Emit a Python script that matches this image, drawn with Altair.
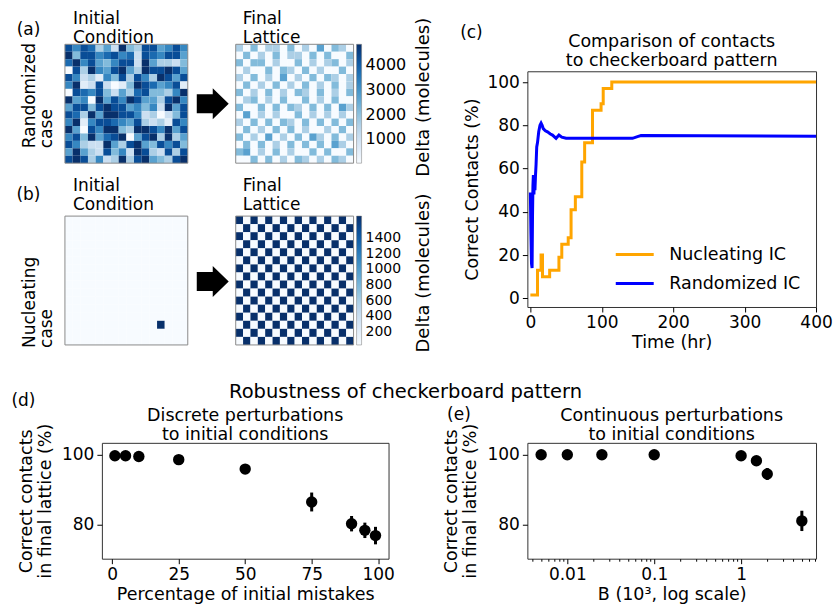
import altair as alt
import pandas as pd

FONT = "DejaVu Sans"
BLUES = ["#f7fbff", "#deebf7", "#c6dbef", "#9ecae1", "#6baed6",
         "#4292c6", "#2171b5", "#08519c", "#08306b"]

# ---------------- (a) randomized case: 16x16 lattices, levels 0-9 ----------------
LEVELS_A = [30, 560, 1100, 1640, 2170, 2710, 3240, 3780, 4310, 4850]
INIT_A = [
    "8687352943885686", "9488678672876885", "7968546882953324", "0839658953988985",
    "8623164838639858", "6912820149875681", "0876842537844369", "9560958698553896",
    "5884898856462958", "8739599886230248", "6916887658323186", "9508699439986958",
    "6849578905893935", "8632295389548684", "5953284629832838", "8983623938954389",
]
FINAL_A = [
    "3040330403050430", "0403040330404004", "4044030040303403", "0300404304030040",
    "3040305030404303", "0403040304030403", "4030403043040304", "0340304004030400",
    "4004040430404053", "0503030040303030", "3040404304040404", "0403040403003040",
    "4030503040530403", "0404030404040530", "4503040300404004", "0040403043030430",
]
TICKS_A = [1000, 2000, 3000, 4000]

# ---------------- (b) nucleating case ----------------
LEVELS_B = [35, 1680]
INIT_B = [
    "0000000000000000", "0000000000000000", "0000000000000000", "0000000000000000",
    "0000000000000000", "0000000000000000", "0000000000000000", "0000000000000000",
    "0000000000000000", "0000000000000000", "0000000000000000", "0000000000000000",
    "0000000000000000", "0000000000001000", "0000000000000000", "0000000000000000",
]
FINAL_B = [
    "1010101010101010", "0101010101010101", "1010101010101010", "0101010101010101",
    "1010101010101010", "0101010101010101", "1010101010101010", "0101010101010101",
    "1010101010101010", "0101010101010101", "1010101010101010", "0101010101010101",
    "1010101010101010", "0101010101010101", "1010101010101010", "0101010101010101",
]
TICKS_B = [200, 400, 600, 800, 1000, 1200, 1400]

# ---------------- (c) contacts vs time ----------------
NUC_T = [0, 10, 15, 17, 27, 40, 44, 53, 57, 63, 72, 76, 87, 99, 102, 114, 400]
NUC_P = [1.5, 13, 20, 10, 13, 19, 25, 28, 41, 47, 63, 72, 87, 90, 97, 100, 100]
RAND_T = [0, 0.8, 1.6, 2.4, 3.0, 3.6, 4.2, 5.0, 5.6, 6.4, 7.2, 8.0, 8.9, 10, 11.7,
          13.5, 15, 16.5, 18, 21, 24, 28, 31, 36, 40, 44, 50, 100, 143, 150, 155, 400]
RAND_P = [49, 30, 16, 14, 38, 52, 57, 48, 56, 50, 57, 62, 70, 72, 77,
          80, 81, 80, 78.5, 77.5, 77, 76, 75.5, 74, 75.5, 74.5, 74, 74, 74, 74.8, 75.3, 75]
SERIES = ["Nucleating IC", "Randomized IC"]
SERIES_COLORS = ["#FFA500", "#0000FF"]
C_XTICKS = [0, 100, 200, 300, 400]
C_YTICKS = [0, 20, 40, 60, 80, 100]

# ---------------- (d) discrete perturbations ----------------
D_X = [1, 5, 10, 25, 50, 75, 90, 95, 99]
D_Y = [99.7, 99.7, 99.5, 98.6, 95.9, 86.5, 80.3, 78.4, 76.9]
D_ERR = [0.3, 0.3, 0.4, 0.6, 1.2, 2.7, 2.2, 2.2, 2.5]
D_XTICKS = [0, 25, 50, 75, 100]

# ---------------- (e) continuous perturbations ----------------
E_X = [0.005, 0.01, 0.025, 0.1, 1, 1.5, 2, 5]
E_Y = [100, 100, 100, 100, 99.7, 98.3, 94.5, 81.1]
E_ERR = [0.1, 0.1, 0.1, 0.1, 0.4, 0.8, 1.7, 2.9]
E_MAJOR = [0.01, 0.1, 1]
E_MINOR = [0.004, 0.005, 0.006, 0.007, 0.008, 0.009,
           0.02, 0.03, 0.04, 0.05, 0.06, 0.07, 0.08, 0.09,
           0.2, 0.3, 0.4, 0.5, 0.6, 0.7, 0.8, 0.9,
           2, 3, 4, 5, 6, 7]
Y_TICKS_DE = [80, 100]

ARROW = "M -1 -0.6 L 0 -0.6 L 0 -0.97 L 1 0 L 0 0.97 L 0 0.6 L -1 0.6 Z"
ONE = alt.Data(values=[{}])


def lattice_df(rows, levels):
    recs = []
    for r, line in enumerate(rows):
        for c, ch in enumerate(line):
            recs.append({"r": r, "r2": r + 1, "c": c, "c2": c + 1, "v": levels[int(ch)]})
    return pd.DataFrame(recs)


def lattice(rows, levels, xr, yr, legend):
    df = lattice_df(rows, levels)
    xs = alt.Scale(domain=[0, 16], range=xr, nice=False, zero=False)
    ys = alt.Scale(domain=[0, 16], range=yr, nice=False, zero=False)
    cells = alt.Chart(df).mark_rect().encode(
        x=alt.X("c:Q", scale=xs, axis=None), x2="c2:Q",
        y=alt.Y("r:Q", scale=ys, axis=None), y2="r2:Q",
        color=alt.Color("v:Q", scale=alt.Scale(domain=[levels[0], levels[-1]], range=BLUES,
                                               nice=False, zero=False), legend=legend),
    )
    frame = alt.Chart(ONE).mark_rect(filled=False, stroke="#8a8a8a", strokeWidth=1).encode(
        x=alt.datum(0), x2=alt.datum(16), y=alt.datum(0), y2=alt.datum(16))
    return alt.layer(cells, frame)


def label(text, x, y, size=17, angle=0, align="center", baseline="middle", line_height=None):
    kw = dict(fontSize=size, align=align, baseline=baseline, font=FONT, color="black", lineBreak="\n")
    if angle:
        kw["angle"] = angle
    if line_height:
        kw["lineHeight"] = line_height
    return alt.Chart(ONE).mark_text(**kw).encode(x=alt.value(x), y=alt.value(y), text=alt.value(text))


def arrow(x, y):
    return alt.Chart(ONE).mark_point(shape=ARROW, size=1024, filled=True, color="black",
                                     opacity=1, strokeWidth=0).encode(x=alt.value(x), y=alt.value(y))


def cbar(values, y0, length, size):
    return alt.Legend(orient="none", legendX=255, legendY=y0, direction="vertical", title=None,
                      gradientLength=length, gradientThickness=5, values=values, format="d",
                      labelFontSize=size, labelOffset=4, labelOverlap=False, padding=0,
                      gradientStrokeColor="#777", gradientStrokeWidth=0.5,
                      labelFont=FONT, labelColor="black")


# ---------------- left block (a)+(b), plus free panel labels ----------------
left = alt.layer(
    lattice(INIT_A, LEVELS_A, [-37, 86], [-27, 92], None),
    lattice(FINAL_A, LEVELS_A, [134, 252], [-27, 92], cbar(TICKS_A, -27, 119, 16)),
    lattice(INIT_B, LEVELS_B, [-37, 86], [145, 274], None),
    lattice(FINAL_B, LEVELS_B, [134, 252], [145, 274], cbar(TICKS_B, 145, 129, 14)),
    label("(a)", -73.5, -41),
    label("(b)", -73.5, 124),
    label("(c)", 370, -38),
    label("(d)", -78.5, 330),
    label("(e)", 357.5, 344),
    label("Robustness of checkerboard pattern", 304, 327, size=19.5, baseline="alphabetic"),
    label("Initial\nCondition", -29, -47, align="left", baseline="alphabetic", line_height=18.5),
    label("Final\nLattice", 141, -47, align="left", baseline="alphabetic", line_height=18.5),
    label("Initial\nCondition", -29, 120, align="left", baseline="alphabetic", line_height=18.5),
    label("Final\nLattice", 141, 120, align="left", baseline="alphabetic", line_height=18.5),
    label("Randomized", -67, 77, size=17, angle=270, align="left", baseline="alphabetic"),
    label("case", -50, 77, size=17, angle=270, align="left", baseline="alphabetic"),
    label("Nucleating", -67, 277, size=17, angle=270, align="left", baseline="alphabetic"),
    label("case", -50, 277, size=17, angle=270, align="left", baseline="alphabetic"),
    label("Delta (molecules)", 323, 26, size=18, angle=270),
    label("Delta (molecules)", 323, 202, size=18, angle=270),
    arrow(111, 32.5),
    arrow(111, 210.5),
).resolve_scale(x="independent", y="independent", color="independent").properties(
    width=252, height=236, view=alt.ViewBackground(strokeOpacity=0))

# ---------------- (c) ----------------
c_x = alt.X("t:Q", scale=alt.Scale(domain=[-4.2, 400], nice=False, zero=False),
            axis=alt.Axis(values=C_XTICKS, title="Time (hr)"))
c_y = alt.Y("pct:Q", scale=alt.Scale(domain=[-4, 105], nice=False, zero=False),
            axis=alt.Axis(values=C_YTICKS, title="Correct Contacts (%)", titlePadding=5))
c_color = alt.Color("series:N", scale=alt.Scale(domain=SERIES, range=SERIES_COLORS),
                    legend=alt.Legend(orient="none", legendX=87, legendY=170, title=None,
                                      symbolType="stroke", symbolSize=1444, symbolStrokeWidth=3,
                                      labelFontSize=17.5, labelOffset=14, clipHeight=27,
                                      rowPadding=2, padding=0, labelFont=FONT, labelColor="black"))
c_nuc = alt.Chart(pd.DataFrame({"t": NUC_T, "pct": NUC_P, "series": SERIES[0]})).mark_line(
    interpolate="step-after", strokeWidth=3).encode(x=c_x, y=c_y, color=c_color)
c_rand = alt.Chart(pd.DataFrame({"t": RAND_T, "pct": RAND_P, "series": SERIES[1]})).mark_line(
    strokeWidth=3).encode(x=c_x, y=c_y, color=c_color)
chart_c = alt.layer(c_nuc, c_rand).properties(
    width=289, height=236,
    title=alt.TitleParams(["Comparison of contacts", "to checkerboard pattern"], fontSize=17.5,
                          offset=2, lineHeight=19, anchor="middle", frame="group"))

# ---------------- (d) ----------------
d_xs = alt.Scale(domain=[-3.9, 103.9], nice=False, zero=False)
d_ys = alt.Scale(domain=[70.3, 103.4], nice=False, zero=False)
d_xa = alt.Axis(values=D_XTICKS, title="Percentage of initial mistakes")
d_ya = alt.Axis(values=Y_TICKS_DE, title=["Correct contacts", "in final lattice (%)"], titlePadding=7)
d_base = alt.Chart(pd.DataFrame({"x": D_X, "y": D_Y, "err": D_ERR})).transform_calculate(
    lo="datum.y - datum.err", hi="datum.y + datum.err")
d_err = d_base.mark_rule(color="black", strokeWidth=3).encode(
    x=alt.X("x:Q", scale=d_xs, axis=d_xa), y=alt.Y("lo:Q", scale=d_ys, axis=d_ya), y2="hi:Q")
d_pts = d_base.mark_circle(color="black", size=130, opacity=1).encode(
    x=alt.X("x:Q", scale=d_xs, axis=d_xa), y=alt.Y("y:Q", scale=d_ys, axis=d_ya))
chart_d = alt.layer(
    d_err, d_pts,
    label("Discrete perturbations\nto initial conditions", 143.5, -22, size=17.5,
          baseline="alphabetic", line_height=19),
).properties(width=287, height=116)

# ---------------- (e) ----------------
e_xs = alt.Scale(type="log", domain=[0.00347, 7.28], nice=False)
e_ys = alt.Scale(domain=[70.3, 103.4], nice=False, zero=False)
e_xa = alt.Axis(values=sorted(E_MAJOR + E_MINOR), title="B (10³, log scale)",
                labelExpr="datum.value == 0.01 ? '0.01' : datum.value == 0.1 ? '0.1' : datum.value == 1 ? '1' : ''",
                labelOverlap=False,
                tickSize={"condition": {"test": "datum.value == 0.01 || datum.value == 0.1 || datum.value == 1",
                                        "value": 5}, "value": 2.5})
e_ya = alt.Axis(values=Y_TICKS_DE, title=["Correct contacts", "in final lattice (%)"], titlePadding=7)
e_base = alt.Chart(pd.DataFrame({"x": E_X, "y": E_Y, "err": E_ERR})).transform_calculate(
    lo="datum.y - datum.err", hi="datum.y + datum.err")
e_err = e_base.mark_rule(color="black", strokeWidth=3).encode(
    x=alt.X("x:Q", scale=e_xs, axis=e_xa), y=alt.Y("lo:Q", scale=e_ys, axis=e_ya), y2="hi:Q")
e_pts = e_base.mark_circle(color="black", size=130, opacity=1).encode(
    x=alt.X("x:Q", scale=e_xs, axis=e_xa), y=alt.Y("y:Q", scale=e_ys, axis=e_ya))
chart_e = alt.layer(
    e_err, e_pts,
    label("Continuous perturbations\nto initial conditions", 144.5, -22, size=17.5,
          baseline="alphabetic", line_height=19),
).properties(width=289, height=116)

chart = alt.concat(
    left, chart_c, chart_d, chart_e, columns=2, bounds="flush",
    spacing={"row": 136, "column": 139},
).resolve_scale(color="independent").properties(
    padding={"left": 11, "top": 10, "right": 2, "bottom": 2},
).configure(font=FONT).configure_view(
    stroke="#333", strokeWidth=1,
).configure_axis(
    labelFont=FONT, titleFont=FONT, labelFontSize=17, titleFontSize=17.5, titleFontWeight="normal",
    labelColor="black", titleColor="black", tickColor="black", tickSize=5, tickWidth=1,
    domain=False, grid=False, labelPadding=3, titlePadding=3, labelFlush=False,
).configure_title(
    font=FONT, fontWeight="normal", color="black", fontSize=17.5,
).configure_legend(labelFont=FONT, labelColor="black")

chart.save("out.html", embed_options={"renderer": "svg", "actions": False})
